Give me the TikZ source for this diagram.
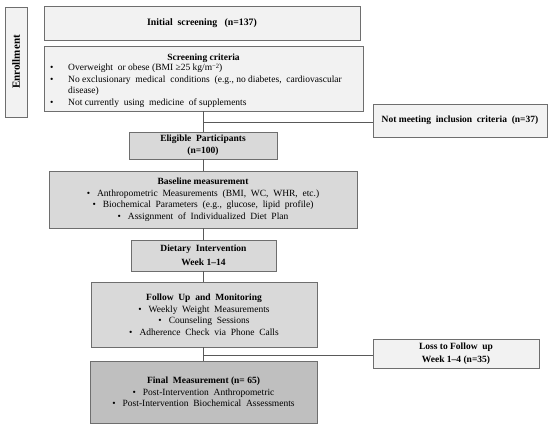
\documentclass[tikz,border=0pt]{standalone}
\usepackage{fontspec}
\setmainfont{Liberation Serif}
\usetikzlibrary{shadows}
\definecolor{lightbox}{HTML}{F2F2F2}
\definecolor{midbox}{HTML}{D9D9D9}
\definecolor{darkbox}{HTML}{BFBFBF}
\definecolor{edgecol}{HTML}{6E6E6E}
\definecolor{linecol}{HTML}{595959}
\newcommand{\bul}{\textbullet\hspace{7pt}}
\begin{document}
\begin{tikzpicture}[x=1pt,y=-1pt,
  font=\fontsize{9.5}{11.5}\selectfont,
  box/.style={draw=edgecol, line width=0.8pt, inner sep=0pt, align=center,
    drop shadow={shadow xshift=0.9pt, shadow yshift=-0.9pt, fill=black!55, opacity=1}},
  lightbox/.style={box, fill=lightbox},
  midbox/.style={box, fill=midbox},
  darkbox/.style={box, fill=darkbox},
  conn/.style={draw=linecol, line width=0.8pt},
  item/.style={anchor=base west, inner sep=0pt}]
\useasboundingbox (0,0) rectangle (550,429);

% Enrollment side label
\node[lightbox, rotate=90, minimum width=110pt, minimum height=22pt, font=\fontsize{11}{13}\selectfont\bfseries] (enroll) at (16,62) {Enrollment};

% Initial screening
\node[lightbox, minimum width=316pt, minimum height=34pt, font=\fontsize{9.8}{11.5}\selectfont\bfseries] (init) at (202,23) {Initial\ \ screening\ \ \ (n=137)};

% Screening criteria
\node[lightbox, minimum width=319pt, minimum height=65pt] (crit) at (203.5,78.5) {};
\node[anchor=base, inner sep=0pt, font=\fontsize{9.5}{11.5}\selectfont\bfseries] (crittitle) at (203.5,60) {Screening criteria};
\node[item] (b1) at (50,70.5) {\makebox[18pt][l]{\textbullet}Overweight\ \ or obese (BMI ≥25 kg/m\raisebox{2.5pt}{\fontsize{6.5}{7}\selectfont −2})};
\node[item] (b2) at (50,82) {\makebox[18pt][l]{\textbullet}No exclusionary\ \ medical\ \ conditions\ \ (e.g., no diabetes,\ \ cardiovascular};
\node[item] (b2b) at (68,93) {disease)};
\node[item] (b3) at (50,105) {\makebox[18pt][l]{\textbullet}Not currently\ \ using\ \ medicine\ \ of supplements};

% Not meeting
\node[lightbox, minimum width=174pt, minimum height=33pt, font=\fontsize{9.5}{11.5}\selectfont\bfseries] (notmeet) at (460,120.5) {Not meeting\ \ inclusion\ \ criteria\ \ (n=37)};

% Eligible
\node[midbox, minimum width=148pt, minimum height=27pt, font=\fontsize{9.5}{12}\selectfont\bfseries] (elig) at (203,145.5) {Eligible\ \ Participants\\(n=100)};

% Baseline
\node[midbox, minimum width=308pt, minimum height=57pt] (base) at (203,199.5) {\textbf{Baseline measurement}\\
\bul Anthropometric\ \ Measurements\ \ (BMI,\ \ WC,\ \ WHR,\ \ etc.)\\
\bul Biochemical\ \ Parameters\ \ (e.g.,\ \ glucose,\ \ lipid\ \ profile)\\
\bul Assignment\ \ of\ \ Individualized\ \ Diet\ \ Plan};

% Dietary intervention
\node[midbox, minimum width=145pt, minimum height=31pt, font=\fontsize{9.5}{13.5}\selectfont\bfseries] (diet) at (203.5,255.5) {Dietary\ \ Intervention\\Week 1–14};

% Follow up
\node[midbox, minimum width=226pt, minimum height=65pt] (follow) at (204,314.5) {\textbf{Follow\ \ Up\ \ and\ \ Monitoring}\\
\bul Weekly\ \ Weight\ \ Measurements\\
\bul Counseling\ \ Sessions\\
\bul Adherence\ \ Check\ \ via\ \ Phone\ \ Calls};

% Loss to follow up
\node[lightbox, minimum width=166pt, minimum height=29pt, font=\fontsize{9.5}{13}\selectfont\bfseries] (loss) at (456,353.5) {Loss to Follow\ \ up\\Week 1–4 (n=35)};

% Final measurement
\node[darkbox, minimum width=227pt, minimum height=62pt] (final) at (203.5,392) {\textbf{Final\ \ Measurement (n= 65)}\\
\bul Post-Intervention\ \ Anthropometric\\
\bul Post-Intervention\ \ Biochemical\ \ Assessments};

% Connectors
\coordinate (j1) at (203,122);
\coordinate (j2) at (203,355);
\draw[conn] (elig.north |- crit.south) -- (elig.north);
\draw[conn] (j1) -- (notmeet.west |- j1);
\draw[conn] (elig.south) -- (base.north);
\draw[conn] (base.south) -- (base.south |- diet.north);
\draw[conn] (base.south |- diet.south) -- (base.south |- follow.north);
\draw[conn] (base.south |- follow.south) -- (base.south |- final.north);
\draw[conn] (j2) -- (loss.west |- j2);
\end{tikzpicture}
\end{document}
